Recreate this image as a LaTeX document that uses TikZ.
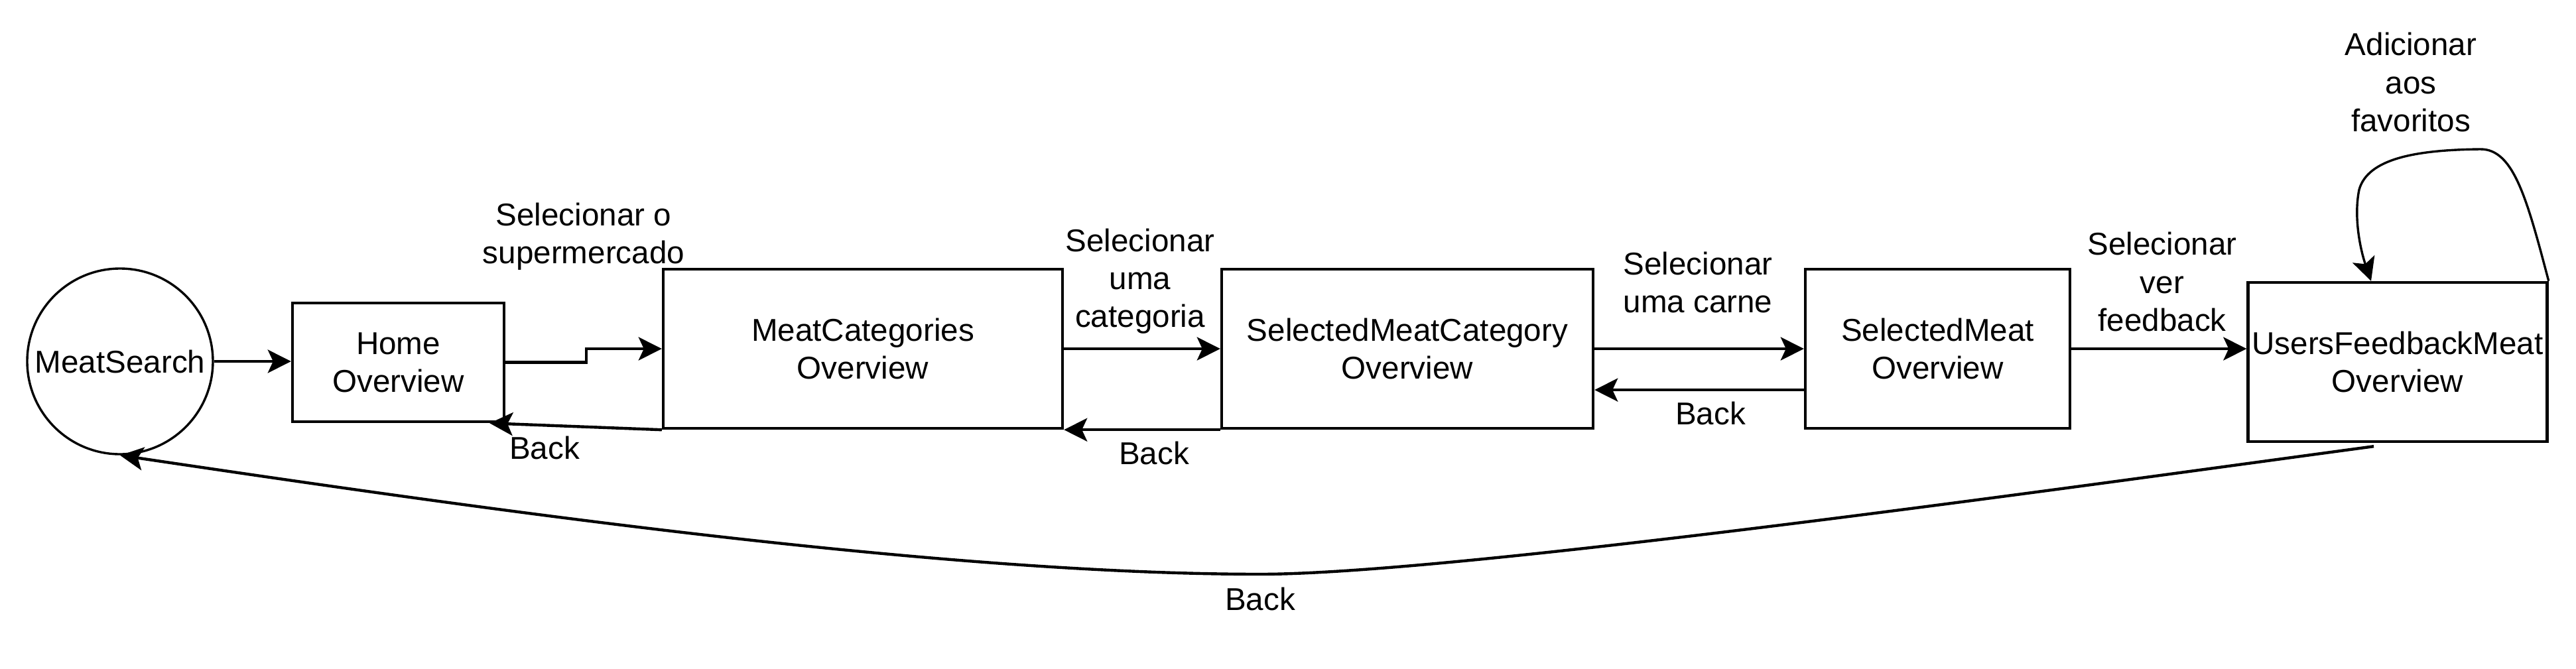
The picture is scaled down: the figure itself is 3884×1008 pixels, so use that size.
\documentclass[tikz,border=0pt]{standalone}
\usepackage{fontspec}
\setmainfont{Liberation Sans}
\usetikzlibrary{arrows.meta,calc}
\begin{document}
\begin{tikzpicture}[x=0.25pt,y=0.25pt,yscale=-1,xscale=1,
    every node/.style={font=\fontsize{11.9pt}{14.3pt}\selectfont, align=center, inner sep=1pt},
    screen/.style={draw, line width=1.1pt, minimum height=60pt},
    flow/.style={line width=1.1pt, -{Stealth[length=8.75pt,width=8.75pt,inset=2pt]}}]
    \useasboundingbox (0,0) rectangle (3884,1008);
    \node [draw, circle, line width=0.85pt, minimum size=70pt, inner sep=0pt] (meatsearch) at (181,545) {MeatSearch};
    \node [screen, minimum width=79.75pt, minimum height=44.75pt] (home) at (600.5,546.5) {Home\\Overview};
    \node [screen, minimum width=150.5pt] (meatcat) at (1301,526) {MeatCategories\\Overview};
    \node [screen, minimum width=140pt] (selcat) at (2122,526) {SelectedMeatCategory\\Overview};
    \node [screen, minimum width=99.75pt] (selmeat) at (2921.5,526) {SelectedMeat\\Overview};
    \node [screen, minimum width=112.75pt] (feedback) at (3615,546) {UsersFeedbackMeat\\Overview};
    \node (lblsuper) at (880,357) {Selecionar o\\supermercado};
    \node (lblcat) at (1719,424) {Selecionar\\uma\\categoria};
    \node (lblcarne) at (2560,426) {Selecionar\\uma carne};
    \node (lblver) at (3260,425) {Selecionar\\ver\\feedback};
    \node (lblfav) at (3635,124) {Adicionar\\aos\\favoritos};
    \node (back1) at (821,675) {Back};
    \node (back2) at (1740,683) {Back};
    \node (back3) at (2579,623) {Back};
    \node (back4) at (1900,903) {Back};
    \draw [flow] (meatsearch.east) -- (meatsearch.east -| home.west);
    \draw [flow] (home.east) -- ++(122,0) |- (meatcat.west);
    \draw [flow] (meatcat.east) -- (selcat.west);
    \draw [flow] (selcat.east) -- (selmeat.west);
    \draw [flow] (selmeat.east) -- (selmeat.east -| feedback.west);
    \draw [flow] ($(selmeat.north west)!0.754!(selmeat.south west)$) -- ($(selcat.north east)!0.754!(selcat.south east)$);
    \draw [flow] (selcat.south west) -- (meatcat.south east);
    \draw [flow] (meatcat.south west) -- ($(home.south east)+(-24,0)$);
    \draw [flow] ($(feedback.south)+(-36,5)$) .. controls (3179,727) and (2200,866) .. (1900,866) .. controls (1400,866) and (682,761) .. (meatsearch.south);
    \draw [flow, line width=0.85pt] (feedback.north east) .. controls (3810,300) and (3790,225) .. (3740,225) .. controls (3640,226) and (3570,240) .. (3557,286) .. controls (3548,330) and (3560,380) .. ($(feedback.north)+(-40,0)$);
\end{tikzpicture}
\end{document}
